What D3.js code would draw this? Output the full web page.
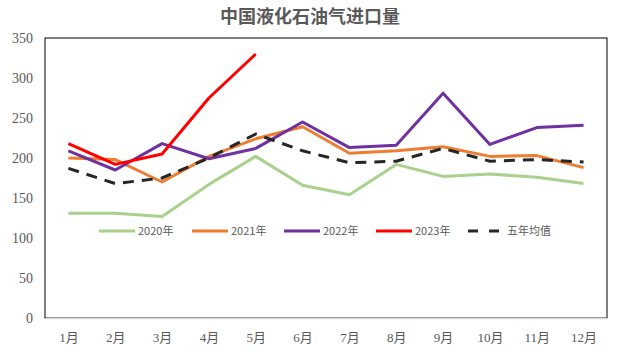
<!DOCTYPE html>
<html>
<head>
<meta charset="utf-8">
<script src="https://cdn.jsdelivr.net/npm/d3@7"></script>
<style>
  body { margin: 0; background: #fff; }
</style>
</head>
<body>
<svg></svg>
<script>
const svgWidth = 620
const svgHeight = 354
const margins = { top: 38, bottom: 36, left: 45, right: 13 }
const plotWidth = svgWidth - margins.left - margins.right
const plotHeight = svgHeight - margins.top - margins.bottom

const months = ["1月", "2月", "3月", "4月", "5月", "6月", "7月", "8月", "9月", "10月", "11月", "12月"]
const yTicks = [0, 50, 100, 150, 200, 250, 300, 350]

const series2020 = [131, 131, 127, 167, 202, 166, 154, 192, 177, 180, 176, 168]
const series2021 = [200, 198, 170, 202, 224, 239, 206, 209, 214, 202, 203, 188]
const series2022 = [209, 185, 218, 199, 212, 245, 213, 216, 281, 217, 238, 241]
const series2023 = [218, 192, 205, 275, 330]
const seriesAvg = [187, 168, 175, 200, 230, 209, 194, 196, 212, 196, 198, 195]

const seriesNames = ["2020年", "2021年", "2022年", "2023年", "五年均值"]
const seriesColors = ["#A9D18E", "#ED7D31", "#7030A0", "#FF0000", "#262626"]
const seriesData = [series2020, series2021, series2022, series2023, seriesAvg]

const svg = d3.select("svg")
  .attr("width", svgWidth)
  .attr("height", svgHeight)

svg.append("text")
  .text("中国液化石油气进口量")
  .attr("x", 310)
  .attr("y", 23)
  .attr("text-anchor", "middle")
  .attr("font-size", 18)
  .attr("font-weight", "bold")
  .attr("fill", "#595959")
  .attr("font-family", "'Noto Sans CJK SC', sans-serif")

const xScale = d3.scalePoint()
  .domain(months)
  .range([0, plotWidth])
  .padding(0.5)
const yScale = d3.scaleLinear()
  .domain([0, 350])
  .range([plotHeight, 0])

const plot = svg.append("g")
  .attr("transform", `translate(${margins.left},${margins.top})`)

// plot frame
plot.append("rect")
  .attr("x", 0)
  .attr("y", 0)
  .attr("width", plotWidth)
  .attr("height", plotHeight)
  .attr("fill", "none")
  .attr("stroke", "#000")
  .attr("stroke-width", 1)

const xAxis = plot.append("g")
  .attr("transform", `translate(0,${plotHeight})`)
  .call(d3.axisBottom(xScale).tickSize(0).tickPadding(15))
xAxis.select(".domain").attr("stroke", "#d9d9d9").attr("stroke-width", 1.5)
xAxis.selectAll("text")
  .attr("font-size", 13)
  .attr("fill", "#595959")
  .attr("font-family", "'Liberation Serif', 'Noto Sans CJK SC', serif")

const yAxis = plot.append("g")
  .call(d3.axisLeft(yScale).tickValues(yTicks).tickSize(0).tickPadding(12))
yAxis.select(".domain").remove()
yAxis.selectAll("text")
  .attr("font-size", 14)
  .attr("fill", "#595959")
  .attr("font-family", "'Liberation Serif', serif")

const line = d3.line()
  .x((d, i) => xScale(months[i]))
  .y((d) => yScale(d))

seriesData.forEach((data, index) => {
  plot.append("path")
    .datum(data)
    .attr("d", line)
    .attr("fill", "none")
    .attr("stroke", seriesColors[index])
    .attr("stroke-width", 3)
    .attr("stroke-linejoin", "round")
    .attr("stroke-dasharray", index === 4 ? "11,8" : null)
})

// legend
const legendX = [99, 192, 284, 376, 468]
const legendGroup = svg.append("g")
  .attr("transform", `translate(0,231)`)
legendGroup.selectAll(".legend-line")
  .data(seriesNames)
  .enter()
  .append("line")
  .attr("x1", (d, i) => legendX[i])
  .attr("x2", (d, i) => legendX[i] + 36)
  .attr("y1", 0)
  .attr("y2", 0)
  .attr("stroke", (d, i) => seriesColors[i])
  .attr("stroke-width", 3)
  .attr("stroke-dasharray", (d, i) => i === 4 ? "10,11" : null)
legendGroup.selectAll(".legend-text")
  .data(seriesNames)
  .enter()
  .append("text")
  .attr("x", (d, i) => legendX[i] + 39)
  .attr("y", 4)
  .text((d) => d)
  .attr("font-size", 11)
  .attr("fill", "#595959")
  .attr("font-family", "'Noto Sans CJK SC', sans-serif")
</script>
</body>
</html>
